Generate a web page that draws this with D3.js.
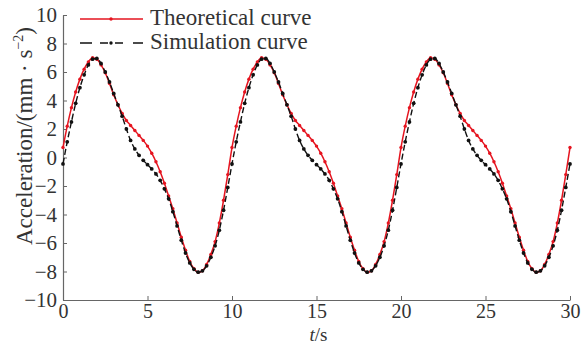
<!DOCTYPE html>
<html>
<head>
<meta charset="utf-8">
<script src="https://cdn.jsdelivr.net/npm/d3@7"></script>
<style>
  body { margin: 0; background: #fff; }
  svg { display: block; }
  text { font-family: "Liberation Serif", "Times New Roman", serif; fill: #333; }
</style>
</head>
<body>
<svg id="chart" width="581" height="346"></svg>
<script>
// sampling step of both curves (s)
const timeStep = 0.25;
const xTicks = [0, 5, 10, 15, 20, 25, 30];
const yTicks = [-10, -8, -6, -4, -2, 0, 2, 4, 6, 8, 10];

// theoretical curve, every 0.25 s from 0 to 30 s
const theoretical = [
  0.7, 2.2, 3.5, 4.6, 5.5, 6.2, 6.7, 7.0, 6.9, 6.5, 5.95, 5.2, 4.4, 3.7, 3.1, 2.6, 2.25, 1.9, 1.55, 1.2,
  0.8, 0.3, -0.3, -1.0, -1.8, -2.7, -3.6, -4.6, -5.6, -6.5, -7.3, -7.8, -8.05, -7.95, -7.5, -6.8, -5.9, -4.6, -3.0, -1.2,
  0.7, 2.2, 3.5, 4.6, 5.5, 6.2, 6.7, 7.0, 6.9, 6.5, 5.95, 5.2, 4.4, 3.7, 3.1, 2.6, 2.25, 1.9, 1.55, 1.2,
  0.8, 0.3, -0.3, -1.0, -1.8, -2.7, -3.6, -4.6, -5.6, -6.5, -7.3, -7.8, -8.05, -7.95, -7.5, -6.8, -5.9, -4.6, -3.0, -1.2,
  0.7, 2.2, 3.5, 4.6, 5.5, 6.2, 6.7, 7.0, 6.9, 6.5, 5.95, 5.2, 4.4, 3.7, 3.1, 2.6, 2.25, 1.9, 1.55, 1.2,
  0.8, 0.3, -0.3, -1.0, -1.8, -2.7, -3.6, -4.6, -5.6, -6.5, -7.3, -7.8, -8.05, -7.95, -7.5, -6.8, -5.9, -4.6, -3.0, -1.2,
  0.7
];

// simulation curve, same sampling
const simulation = [
  -0.45, 1.1, 2.5, 3.8, 4.9, 5.8, 6.5, 6.9, 6.95, 6.6, 6.0, 5.3, 4.5, 3.7, 2.9, 2.0, 1.2, 0.6, 0.15, -0.2,
  -0.5, -0.8, -1.15, -1.6, -2.2, -2.9, -3.8, -4.8, -5.8, -6.7, -7.4, -7.85, -8.05, -7.95, -7.6, -7.0, -6.2, -5.1, -3.7, -2.1,
  -0.45, 1.1, 2.5, 3.8, 4.9, 5.8, 6.5, 6.9, 6.95, 6.6, 6.0, 5.3, 4.5, 3.7, 2.9, 2.0, 1.2, 0.6, 0.15, -0.2,
  -0.5, -0.8, -1.15, -1.6, -2.2, -2.9, -3.8, -4.8, -5.8, -6.7, -7.4, -7.85, -8.05, -7.95, -7.6, -7.0, -6.2, -5.1, -3.7, -2.1,
  -0.45, 1.1, 2.5, 3.8, 4.9, 5.8, 6.5, 6.9, 6.95, 6.6, 6.0, 5.3, 4.5, 3.7, 2.9, 2.0, 1.2, 0.6, 0.15, -0.2,
  -0.5, -0.8, -1.15, -1.6, -2.2, -2.9, -3.8, -4.8, -5.8, -6.7, -7.4, -7.85, -8.05, -7.95, -7.6, -7.0, -6.2, -5.1, -3.7, -2.1,
  -0.45
];

const seriesNames = ["Theoretical curve", "Simulation curve"];

const margin = {top: 15, right: 11, bottom: 46, left: 63};
const width = 581 - margin.left - margin.right;
const height = 346 - margin.top - margin.bottom;

const svg = d3.select("#chart");
const g = svg.append("g")
  .attr("transform", "translate(" + margin.left + "," + margin.top + ")");

const xScale = d3.scaleLinear().domain([0, 30]).range([0, width]);
const yScale = d3.scaleLinear().domain([-10, 10]).range([height, 0]);

const toPoints = arr => arr.map((v, i) => ({t: i * timeStep, v: v}));
const redData = toPoints(theoretical);
const blackData = toPoints(simulation);

// ---- axes (left + bottom only, ticks pointing in)
const xAxis = g.append("g")
  .attr("transform", "translate(0," + height + ")")
  .call(d3.axisBottom(xScale).tickValues(xTicks).tickSize(-4).tickSizeOuter(0).tickPadding(4));

const yAxis = g.append("g")
  .call(d3.axisLeft(yScale).tickValues(yTicks).tickSize(-4).tickSizeOuter(0).tickPadding(6));

[xAxis, yAxis].forEach(ax => {
  ax.select(".domain").attr("stroke", "#666").attr("stroke-width", 1.2);
  ax.selectAll(".tick line").attr("stroke", "#666").attr("stroke-width", 1);
  ax.selectAll(".tick text")
    .attr("fill", "#333")
    .style("font-size", "21px")
    .style("font-family", '"Liberation Serif", "Times New Roman", serif');
});
xAxis.selectAll(".tick text").style("font-size", "20px");

// ---- curves
const line = d3.line()
  .x(d => xScale(d.t))
  .y(d => yScale(d.v))
  .curve(d3.curveMonotoneX);

g.append("path")
  .datum(redData)
  .attr("fill", "none")
  .attr("stroke", "#e5141f")
  .attr("stroke-width", 1.5)
  .attr("d", line);

g.selectAll(".red-dot")
  .data(redData)
  .enter().append("circle")
  .attr("class", "red-dot")
  .attr("cx", d => xScale(d.t))
  .attr("cy", d => yScale(d.v))
  .attr("r", 1.7)
  .attr("fill", "#e5141f");

g.append("path")
  .datum(blackData)
  .attr("fill", "none")
  .attr("stroke", "#111")
  .attr("stroke-width", 1.4)
  .attr("stroke-dasharray", "6,3")
  .attr("d", line);

g.selectAll(".black-dot")
  .data(blackData)
  .enter().append("circle")
  .attr("class", "black-dot")
  .attr("cx", d => xScale(d.t))
  .attr("cy", d => yScale(d.v))
  .attr("r", 1.9)
  .attr("fill", "#111");

// ---- legend
const legend = svg.append("g");
legend.append("line")
  .attr("x1", 80).attr("x2", 143).attr("y1", 19).attr("y2", 19)
  .attr("stroke", "#e5141f").attr("stroke-width", 1.4);
legend.append("circle").attr("cx", 111).attr("cy", 19).attr("r", 1.7).attr("fill", "#e5141f");
legend.append("text").attr("x", 150).attr("y", 25).style("font-size", "23px").text(seriesNames[0]);

legend.append("line")
  .attr("x1", 80).attr("x2", 143).attr("y1", 43).attr("y2", 43)
  .attr("stroke", "#111").attr("stroke-width", 1.3)
  .attr("stroke-dasharray", "12,8,8,7,8,10,11");
legend.append("circle").attr("cx", 111).attr("cy", 43).attr("r", 1.7).attr("fill", "#111");
legend.append("text").attr("x", 150).attr("y", 49).style("font-size", "23px").text(seriesNames[1]);

// ---- axis titles
const yTitle = svg.append("text")
  .attr("transform", "translate(32,136) rotate(-90)")
  .attr("text-anchor", "middle")
  .style("font-size", "23px");
yTitle.append("tspan").text("Acceleration/(mm \u00b7 s");
yTitle.append("tspan").attr("dy", -9).style("font-size", "14px").text("\u22122");
yTitle.append("tspan").attr("dy", 9).text(")");

const xTitle = svg.append("text")
  .attr("x", margin.left + width / 2 + 2)
  .attr("y", 341)
  .attr("text-anchor", "middle")
  .style("font-size", "19px");
xTitle.append("tspan").style("font-style", "italic").text("t");
xTitle.append("tspan").text("/s");
</script>
</body>
</html>
